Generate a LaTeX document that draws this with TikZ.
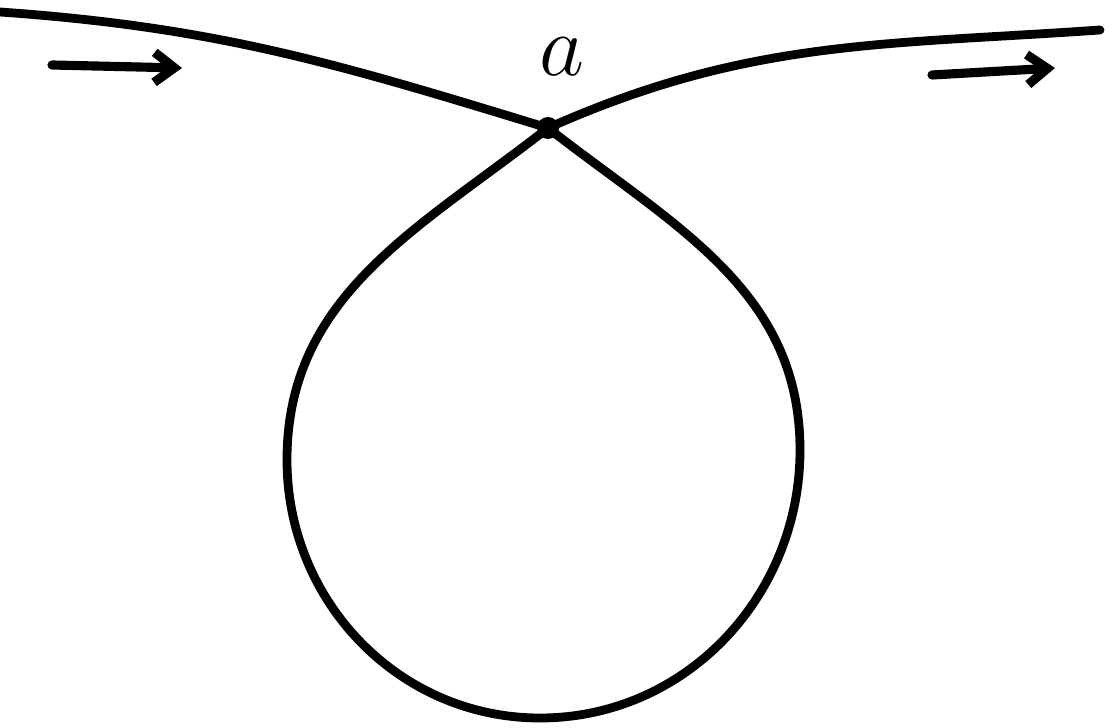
\documentclass[tikz,border=0pt]{standalone}
\usepackage{tikz}
\usetikzlibrary{arrows.meta}

\begin{document}
\begin{tikzpicture}[x=0.01cm,y=0.01cm]
\tikzstyle{curve} = [line width=2.5pt, line cap=round, line join=round]
\tikzstyle{arrow} = [line width=2.6pt, line cap=round, -{Straight Barb[length=0.2cm,width=0.3cm]}]
\tikzstyle{label} = [font=\fontsize{50}{56}\selectfont]

\useasboundingbox (0,0) rectangle (1112,727);

\coordinate (start) at (0,715);
\coordinate (cross) at (548,599);
\coordinate (right) at (800,277);
\coordinate (bottom) at (540,9);
\coordinate (left) at (287,267);
\coordinate (end) at (1100,697);

\coordinate (inA) at (52,662);
\coordinate (inB) at (182,659);
\coordinate (outA) at (932,652);
\coordinate (outB) at (1055,659);

% the loop
\draw [curve] (start) to[out=-4,in=163] (cross)
  to[out=-38,in=90] (right)
  to[out=-90,in=0] (bottom)
  to[out=180,in=-90] (left)
  to[out=90,in=-142] (cross)
  to[out=24,in=184] (end);
\fill (cross) circle (11);

\node (a) [label] at (562,670) {$a$};

\draw [arrow] (inA) -- (inB);
\draw [arrow] (outA) -- (outB);

\end{tikzpicture}
\end{document}
